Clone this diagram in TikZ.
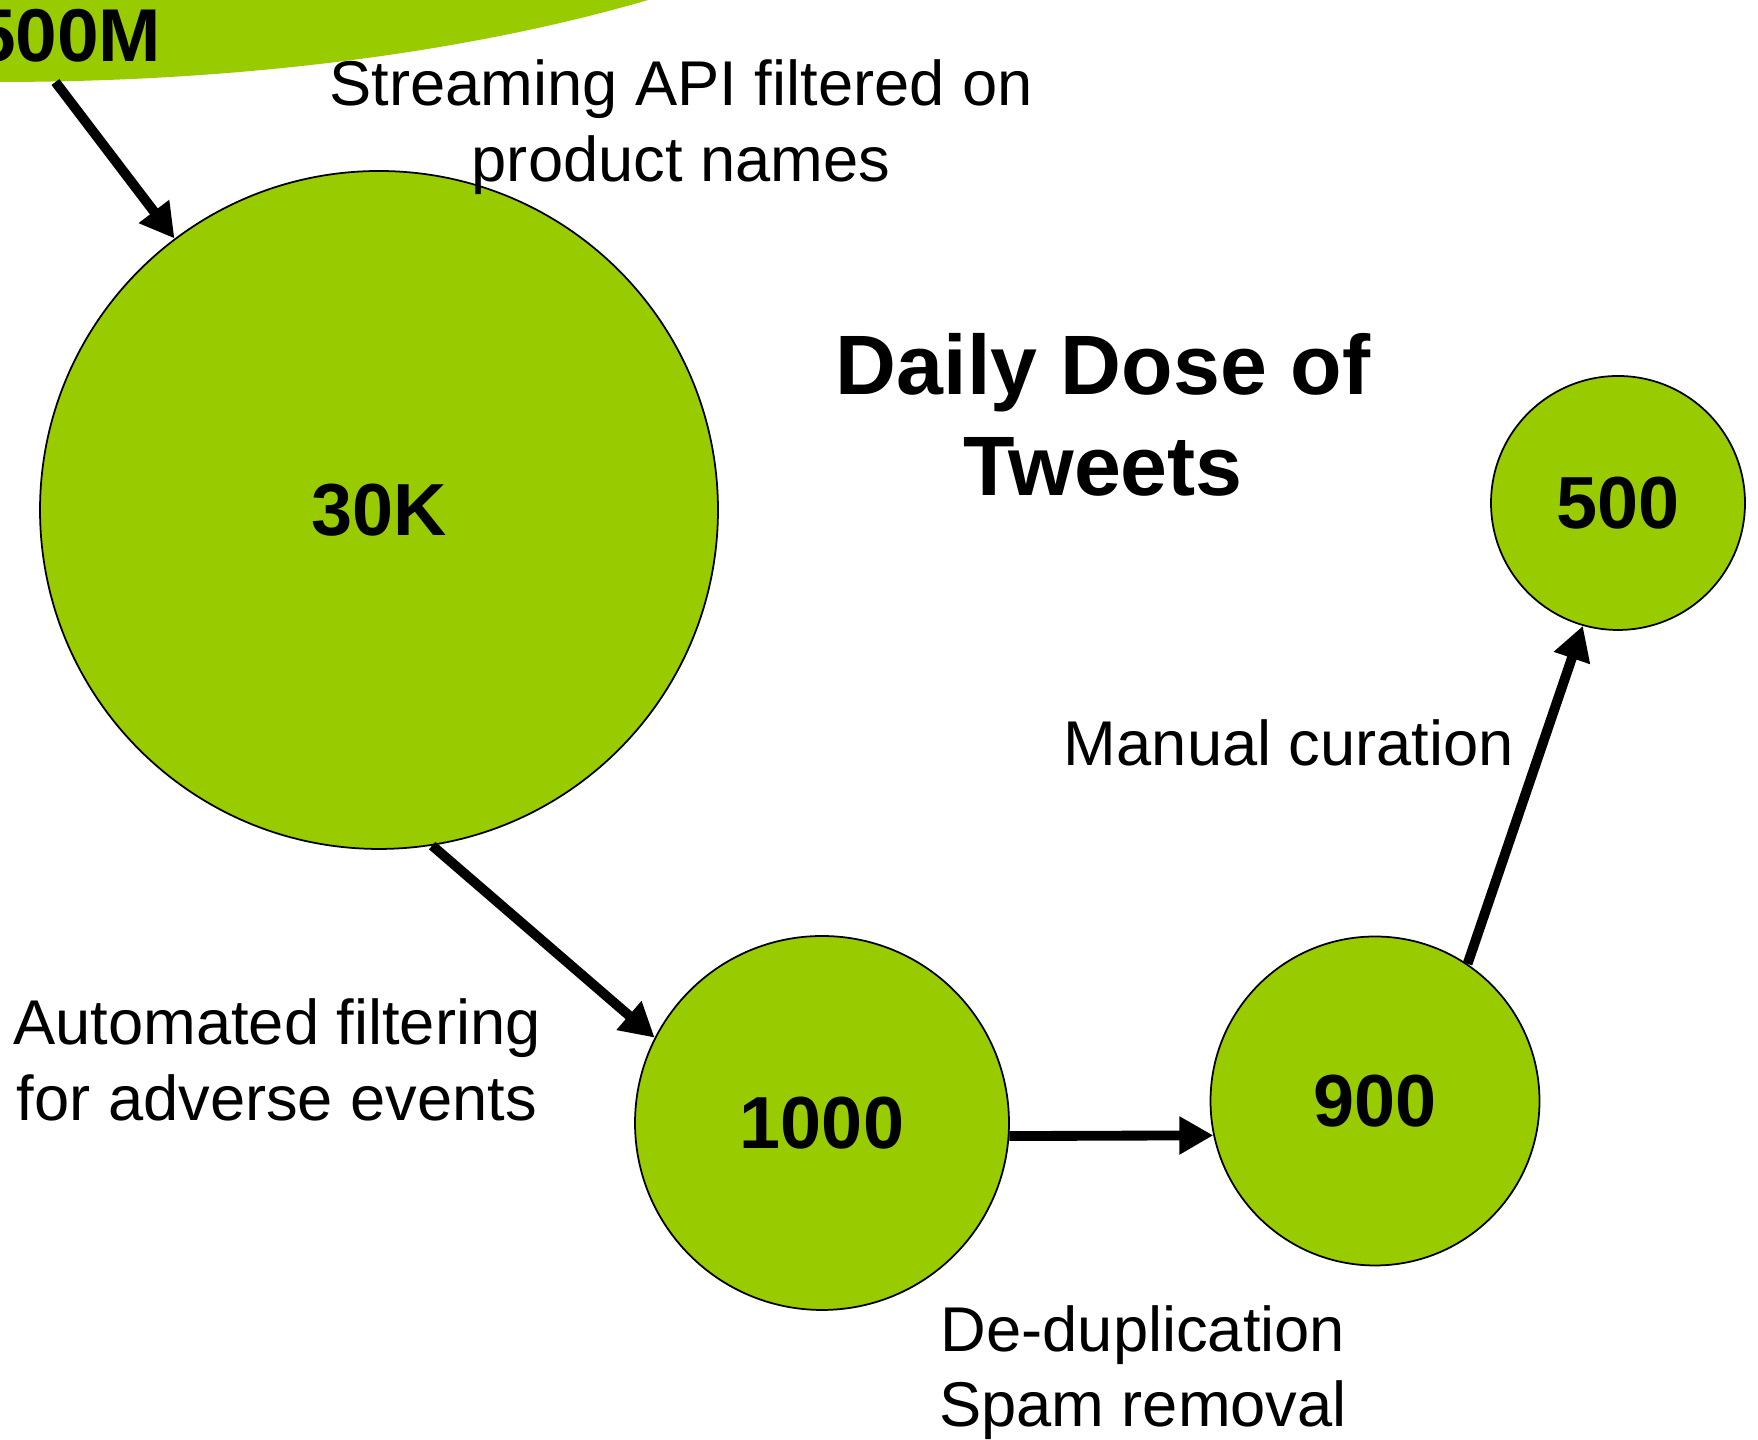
\documentclass[tikz,border=0pt]{standalone}
\usepackage{fontspec}
\setmainfont{Liberation Sans}
\usetikzlibrary{arrows.meta,%
                shapes,positioning}
\definecolor{tweetgreen}{HTML}{99CC00}

\begin{document}
\begin{tikzpicture}[scale=0.10,
  every node/.style={inner sep=0pt},
  count/.style={circle, draw=black, line width=0.5pt, fill=tweetgreen,
    font=\fontsize{21}{25}\selectfont\bfseries},
  note/.style={align=center, font=\fontsize{18}{21.5}\selectfont},
  flow/.style={-{Triangle[length=3.4mm,width=3.6mm]}, line width=2.8pt}]
\useasboundingbox (0,0) rectangle (175.8,144);
%\draw[help lines] (0,0) grid (175.8,144);
\begin{scope}
\clip (0,0) rectangle (175.8,144);
\node[ellipse, fill=tweetgreen, minimum width=201.6mm, minimum height=70mm] (all) at (0,170.8) {};
\end{scope}
\node[anchor=base east, font=\fontsize{21.3}{25}\selectfont\bfseries] (alllabel) at (16.2,137.8) {500M};
\node[count, minimum size=67.8mm] (k30) at (37.9,93.0) {30K};
\node[count, minimum size=37.4mm] (n1000) at (82.2,31.7) {1000};
\node[count, minimum size=32.9mm] (n900) at (137.5,33.9) {900};
\node[count, minimum size=25.4mm] (n500) at (161.8,93.7) {500};
% steps
\node[note] (streaming) at (68.1,131.3) {Streaming API filtered on\\product names};
\node[note, font=\fontsize{24}{28.7}\selectfont\bfseries] (title) at (110.3,102.5) {Daily Dose of\\Tweets};
\node[note, anchor=base] (manual) at (128.9,67.4) {Manual curation};
\node[note] (auto) at (27.7,38.0) {Automated filtering\\for adverse events};
\node[note] (dedup) at (114.3,6.75) {De-duplication\\Spam removal};
\draw[flow] (all.-81) -- (k30.127);
\draw[flow] (k30.-81) -- (n1000.153);
\draw[flow] (n1000.-4) -- (n900.192);
\draw[flow] (n900.56) -- (n500.-106);
\end{tikzpicture}
\end{document}
